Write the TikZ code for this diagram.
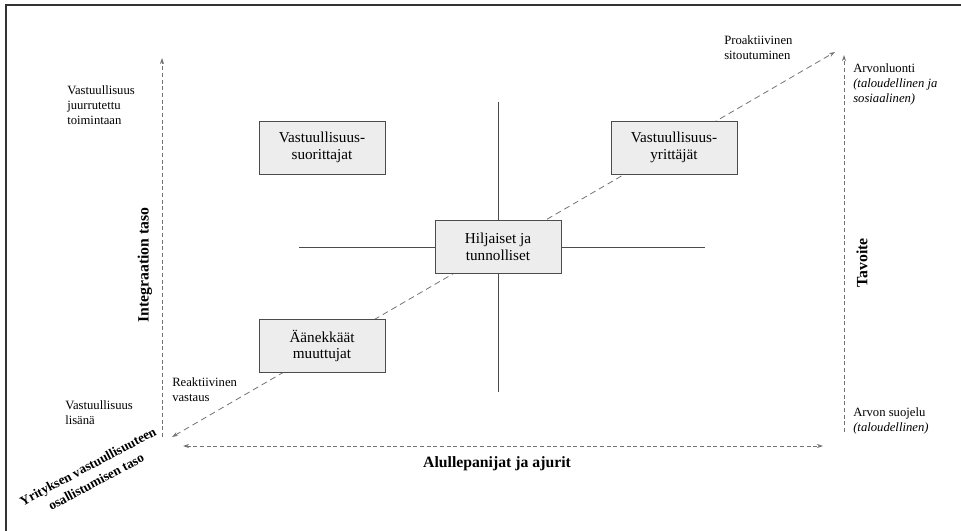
\documentclass[tikz,border=0pt]{standalone}
\usepackage{fontspec}
\setmainfont{Liberation Serif}
\usetikzlibrary{arrows.meta}
\begin{document}
\begin{tikzpicture}[x=0.75pt,y=-0.75pt,
  axis/.style={draw=black!55, line width=0.6pt, dash pattern=on 3pt off 2pt},
  tip/.style={-{Stealth[length=4.5pt,width=3pt]}},
  group/.style={draw=black!70, fill=black!7, line width=0.7pt, minimum width=94.5pt, minimum height=39.75pt, align=center, font=\fontsize{11.4}{12.5}\selectfont},
  note/.style={anchor=north west, inner sep=0pt, align=left, font=\fontsize{9.5}{11.25}\selectfont},
  title/.style={inner sep=0pt, font=\fontsize{11.8}{13}\selectfont\bfseries}]
\useasboundingbox (0,0) rectangle (961,531);
\draw[line width=1.1pt, black!80] (6,531) -- (6,5) -- (961,5);
% axes
\coordinate (yb) at (162,437);
\coordinate (yt) at (162,58);
\coordinate (xl) at (183,446);
\coordinate (xr) at (823,446);
\coordinate (gb) at (844,432);
\coordinate (gt) at (844,55);
\coordinate (dl) at (172,437);
\coordinate (du) at (835,52);
\draw[axis, tip] (yb) -- (yt);
\draw[axis, tip] (gb) -- (gt);
\draw[axis, {Stealth[length=4.5pt,width=3pt]}-{Stealth[length=4.5pt,width=3pt]}] (xl) -- (xr);
\draw[axis, dash pattern=on 4.5pt off 3pt, {Stealth[length=4.5pt,width=3pt]}-{Stealth[length=4.5pt,width=3pt]}] (dl) -- (du);
% cross
\coordinate (ct) at (498,102);
\coordinate (cb) at (498,392);
\coordinate (cl) at (299,247);
\coordinate (cr) at (705,247);
\draw[black!70, line width=0.7pt] (ct) -- (cb);
\draw[black!70, line width=0.7pt] (cl) -- (cr);
% groups
\node[group] (suor) at (322,147.5) {Vastuullisuus-\\suorittajat};
\node[group] (yrit) at (674,147.5) {Vastuullisuus-\\yrittäjät};
\node[group] (hilj) at (498,247) {Hiljaiset ja\\tunnolliset};
\node[group] (aane) at (322,346) {Äänekkäät\\muuttujat};
% labels
\node[note] (juur) at (67,85) {Vastuullisuus\\juurrutettu\\toimintaan};
\node[note] (lisa) at (65,400) {Vastuullisuus\\lisänä};
\node[note] (reak) at (172,377) {Reaktiivinen\\vastaus};
\node[note] (proa) at (724,35) {Proaktiivinen\\sitoutuminen};
\node[note] (luon) at (853,63) {Arvonluonti\\\textit{(taloudellinen ja}\\\textit{sosiaalinen)}};
\node[note] (suoj) at (853,407) {Arvon suojelu\\\textit{(taloudellinen)}};
\node[title, rotate=90] (inte) at (145,265) {Integraation taso};
\node[title, rotate=90] (tavo) at (862,263) {Tavoite};
\node[title] (alul) at (497,464) {Alullepanijat ja ajurit};
\node[title, rotate=28, align=center, font=\fontsize{10}{13}\selectfont\bfseries] (osal) at (92,474) {Yrityksen vastuullisuuteen\\osallistumisen taso};
\end{tikzpicture}
\end{document}
